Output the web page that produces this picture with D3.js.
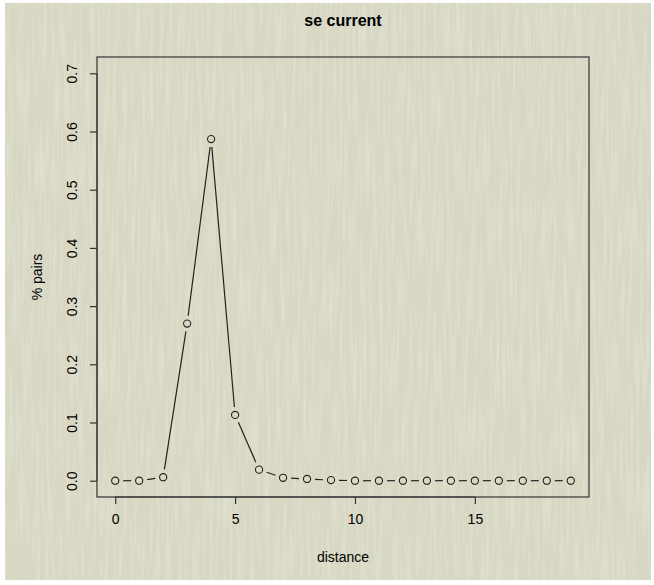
<!DOCTYPE html>
<html>
<head>
<meta charset="utf-8">
<script src="https://cdn.jsdelivr.net/npm/d3@7"></script>
<style>
  body { margin: 0; background: #fff; }
  svg { display: block; font-family: "Liberation Sans", Arial, Helvetica, sans-serif; }
</style>
</head>
<body>
<svg></svg>
<script>
// data
let distance = [0, 1, 2, 3, 4, 5, 6, 7, 8, 9, 10, 11, 12, 13, 14, 15, 16, 17, 18, 19]
let pairs = [0.0, 0.0, 0.006, 0.27, 0.587, 0.113, 0.019, 0.005, 0.003, 0.001, 0.0, 0.0, 0.0, 0.0, 0.0, 0.0, 0.0, 0.0, 0.0, 0.0]
let xTicks = [0, 5, 10, 15]
let yTicks = [0.0, 0.1, 0.2, 0.3, 0.4, 0.5, 0.6, 0.7]

let width = 654
let height = 585
// plot box
let boxLeft = 97, boxRight = 589, boxTop = 57, boxBottom = 497

let svg = d3.select("svg").attr("width", width).attr("height", height)

// paper background with vertical grain
let defs = svg.append("defs")
let f = defs.append("filter").attr("id", "paper")
  .attr("x", 0).attr("y", 0).attr("width", 1).attr("height", 1)
f.append("feTurbulence")
  .attr("type", "fractalNoise")
  .attr("baseFrequency", "0.3 0.015")
  .attr("numOctaves", 2)
  .attr("seed", 7)
  .attr("result", "noise")
f.append("feColorMatrix")
  .attr("in", "noise")
  .attr("type", "matrix")
  .attr("values", "0 0 0 0 0.95  0 0 0 0 0.95  0 0 0 0 0.9  0 0 0 0.6 -0.25")
  .attr("result", "streaks")
f.append("feComposite").attr("in", "streaks").attr("in2", "SourceGraphic").attr("operator", "atop")

svg.append("rect")
  .attr("x", 5).attr("y", 3)
  .attr("width", width - 8).attr("height", 577)
  .attr("fill", "#d7d7c3")
  .attr("filter", "url(#paper)")

// scales (R style 4% padding)
let xScale = d3.scaleLinear()
  .domain([-0.76, 19.76])
  .range([boxLeft, boxRight])
let yScale = d3.scaleLinear()
  .domain([-0.028, 0.728])
  .range([boxBottom, boxTop])

// box
svg.append("rect")
  .attr("x", boxLeft).attr("y", boxTop)
  .attr("width", boxRight - boxLeft).attr("height", boxBottom - boxTop)
  .attr("fill", "none").attr("stroke", "#333").attr("stroke-width", 1.2)

// axes
let xAxis = d3.axisBottom(xScale).tickValues(xTicks).tickSize(7).tickPadding(8).tickFormat(d3.format("d"))
let yAxis = d3.axisLeft(yScale).tickValues(yTicks).tickSize(7).tickPadding(8).tickFormat(d3.format(".1f"))

let gx = svg.append("g")
  .attr("transform", "translate(0," + boxBottom + ")")
  .call(xAxis)
gx.select(".domain").attr("d", "M" + xScale(0) + ",0H" + xScale(15))
gx.selectAll("text").attr("font-size", 14).attr("fill", "#000").attr("dy", "0.85em")

let gy = svg.append("g")
  .attr("transform", "translate(" + boxLeft + ",0)")
  .call(yAxis)
gy.select(".domain").attr("d", "M0," + yScale(0) + "V" + yScale(0.7))
gy.selectAll(".tick text")
  .attr("font-size", 14).attr("fill", "#000")
  .attr("text-anchor", "middle")
  .attr("x", 0).attr("y", 0).attr("dy", "0.35em")
  .attr("transform", "translate(-25,0) rotate(-90)")
svg.selectAll(".tick line").attr("stroke", "#333").attr("stroke-width", 1.2)
svg.selectAll(".domain").attr("stroke", "#333")

// line segments with gaps around points (type = "b")
let r = 3.6
let gap = 8
let segs = []
for (let i = 0; i < distance.length - 1; i++) {
  let x1 = xScale(distance[i]), y1 = yScale(pairs[i])
  let x2 = xScale(distance[i + 1]), y2 = yScale(pairs[i + 1])
  let len = Math.hypot(x2 - x1, y2 - y1)
  if (len > 2 * gap) {
    let ux = (x2 - x1) / len, uy = (y2 - y1) / len
    segs.push([x1 + ux * gap, y1 + uy * gap, x2 - ux * gap, y2 - uy * gap])
  }
}
svg.selectAll("line.seg")
  .data(segs)
  .enter()
  .append("line")
  .attr("class", "seg")
  .attr("x1", d => d[0]).attr("y1", d => d[1])
  .attr("x2", d => d[2]).attr("y2", d => d[3])
  .attr("stroke", "#222").attr("stroke-width", 1.2)

svg.selectAll("circle.pt")
  .data(pairs)
  .enter()
  .append("circle")
  .attr("class", "pt")
  .attr("cx", (d, i) => xScale(distance[i]))
  .attr("cy", d => yScale(d))
  .attr("r", r)
  .attr("fill", "none")
  .attr("stroke", "#222")
  .attr("stroke-width", 1.1)

// titles
svg.append("text")
  .text("se current")
  .attr("x", (boxLeft + boxRight) / 2).attr("y", 26)
  .attr("text-anchor", "middle")
  .attr("font-size", 16).attr("font-weight", "bold").attr("fill", "#000")

svg.append("text")
  .text("distance")
  .attr("x", (boxLeft + boxRight) / 2).attr("y", 562)
  .attr("text-anchor", "middle")
  .attr("font-size", 14).attr("fill", "#000")

svg.append("text")
  .text("% pairs")
  .attr("transform", "translate(42," + ((boxTop + boxBottom) / 2) + ") rotate(-90)")
  .attr("text-anchor", "middle")
  .attr("font-size", 14).attr("fill", "#000")
</script>
</body>
</html>
